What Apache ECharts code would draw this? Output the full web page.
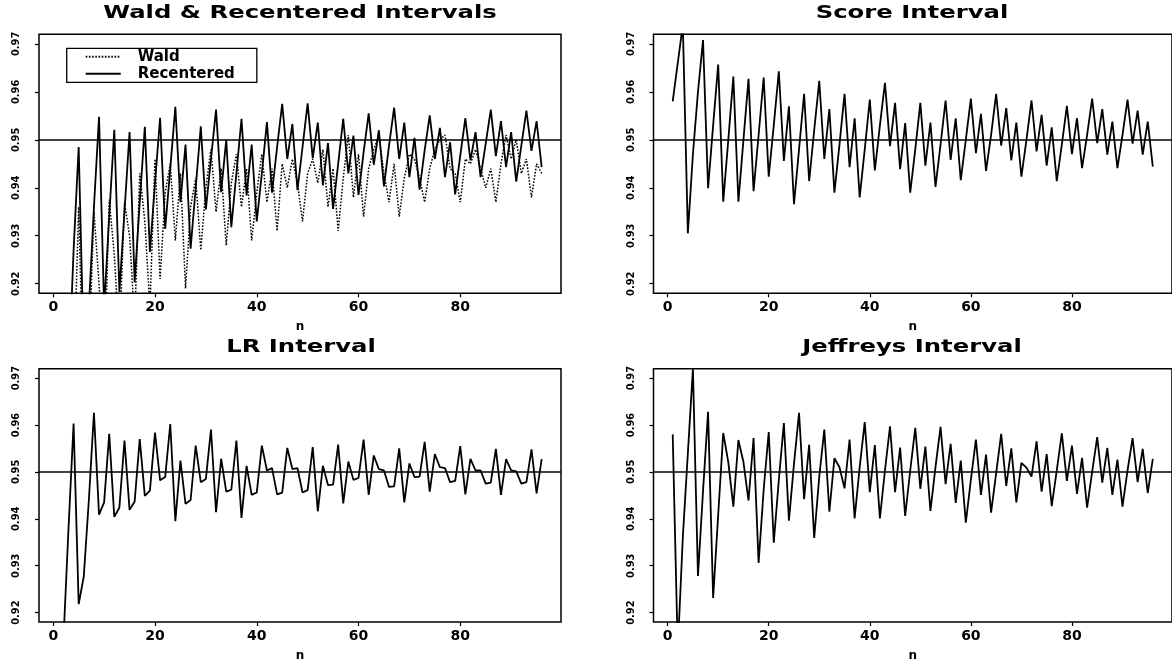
<!DOCTYPE html>
<html>
<head>
<meta charset="utf-8">
<title>Coverage of binomial intervals</title>
<script src="https://cdn.jsdelivr.net/npm/echarts@6/dist/echarts.min.js"></script>
<style>
html, body { margin: 0; padding: 0; background: #fff; }
#chart { width: 1172px; height: 663px; }
</style>
</head>
<body>
<div id="chart"></div>
<script>
// sample sizes
const nValues = [1,2,3,4,5,6,7,8,9,10,11,12,13,14,15,16,17,18,19,20,
  21,22,23,24,25,26,27,28,29,30,31,32,33,34,35,36,37,38,39,40,
  41,42,43,44,45,46,47,48,49,50,51,52,53,54,55,56,57,58,59,60,
  61,62,63,64,65,66,67,68,69,70,71,72,73,74,75,76,77,78,79,80,
  81,82,83,84,85,86,87,88,89,90,91,92,93,94,95,96];

// coverage probabilities
const wald = [0.78,0.83,0.87,0.90,0.936,0.895,0.905,0.935,0.920,0.900,
  0.9375,0.926,0.908,0.937,0.930,0.912,0.943,0.933,0.915,0.946,
  0.921,0.939,0.945,0.929,0.943,0.919,0.936,0.942,0.927,0.940,
  0.948,0.935,0.944,0.928,0.941,0.947,0.936,0.944,0.929,0.939,
  0.947,0.937,0.944,0.931,0.945,0.940,0.946,0.941,0.933,0.943,
  0.946,0.941,0.948,0.936,0.944,0.931,0.942,0.951,0.938,0.947,
  0.934,0.944,0.948,0.951,0.943,0.937,0.945,0.934,0.942,0.947,
  0.946,0.942,0.937,0.944,0.948,0.950,0.951,0.944,0.943,0.937,
  0.946,0.945,0.948,0.944,0.940,0.944,0.937,0.945,0.951,0.946,
  0.950,0.943,0.946,0.938,0.945,0.943];

const recentered = [0.800,0.850,0.900,0.927,0.9485,0.905,0.915,0.936,0.9548,0.915,
  0.934,0.9521,0.9183,0.935,0.9516,0.9203,0.937,0.9527,0.9266,0.941,
  0.9546,0.9314,0.944,0.9569,0.937,0.949,0.9273,0.940,0.9528,0.9355,
  0.946,0.9563,0.9391,0.950,0.9318,0.943,0.9544,0.9384,0.949,0.933,
  0.943,0.9537,0.939,0.9485,0.9575,0.946,0.9533,0.9395,0.9485,0.9576,
  0.9462,0.9536,0.9405,0.9493,0.9356,0.945,0.9544,0.943,0.9509,0.9385,
  0.9474,0.9555,0.9448,0.952,0.9403,0.9488,0.9567,0.946,0.9536,0.9422,
  0.9504,0.9396,0.9478,0.9551,0.946,0.9525,0.9422,0.9495,0.9386,0.9467,
  0.9545,0.9457,0.9516,0.9422,0.9492,0.9563,0.9466,0.9539,0.9443,0.9516,
  0.9413,0.9488,0.9561,0.9477,0.9539,0.9443];

const score = [0.958,0.966,0.974,0.9305,0.947,0.960,0.9708,0.9399,0.953,0.9657,
  0.9371,0.950,0.9632,0.9371,0.950,0.9627,0.9393,0.951,0.963,0.9423,
  0.953,0.9643,0.9456,0.957,0.9366,0.948,0.9596,0.9414,0.952,0.9623,
  0.946,0.9564,0.939,0.949,0.9596,0.9443,0.9545,0.938,0.948,0.9584,
  0.9436,0.953,0.9619,0.9487,0.9577,0.9439,0.9535,0.939,0.948,0.9577,
  0.9446,0.9536,0.9402,0.949,0.9582,0.9458,0.9545,0.9416,0.950,0.9586,
  0.9472,0.9554,0.9435,0.951,0.9596,0.9488,0.9566,0.9457,0.9536,0.9423,
  0.950,0.9582,0.9476,0.9552,0.9446,0.9526,0.9414,0.949,0.9571,0.947,
  0.9545,0.9441,0.951,0.9586,0.9493,0.9564,0.9469,0.9538,0.9441,0.951,
  0.9584,0.9492,0.9561,0.9469,0.9538,0.9444];

const lr = [0.880,0.914,0.938,0.9603,0.9218,0.9277,0.944,0.9626,0.9409,0.9435,
  0.9581,0.9404,0.9424,0.9567,0.9419,0.9437,0.957,0.9449,0.946,0.9584,
  0.9482,0.9489,0.9602,0.9395,0.9524,0.9432,0.944,0.9556,0.9478,0.9485,
  0.959,0.9414,0.9528,0.9458,0.9462,0.9567,0.9402,0.9513,0.9451,0.9456,
  0.9556,0.9503,0.9508,0.9452,0.9456,0.9551,0.9506,0.9508,0.9456,0.9461,
  0.9553,0.9416,0.9513,0.9472,0.9473,0.9558,0.9433,0.9522,0.9483,0.9487,
  0.9569,0.9451,0.9535,0.9506,0.9503,0.9468,0.9469,0.955,0.9435,0.9518,
  0.9489,0.949,0.9564,0.9458,0.9538,0.951,0.9508,0.9478,0.9481,0.9555,
  0.9452,0.9528,0.9503,0.9503,0.9475,0.9477,0.9549,0.9451,0.9527,0.9503,
  0.9501,0.9475,0.9478,0.9548,0.9454,0.9527];

const jeffreys = [0.958,0.912,0.936,0.954,0.9719,0.9278,0.9459,0.9628,0.9231,0.9408,
  0.9583,0.9521,0.9426,0.9568,0.9521,0.9439,0.9572,0.9306,0.9462,0.9585,
  0.9349,0.9483,0.9604,0.9396,0.9517,0.9626,0.9442,0.9558,0.9359,0.949,
  0.959,0.9415,0.9529,0.951,0.9465,0.9569,0.9401,0.951,0.9606,0.9457,
  0.9557,0.9401,0.9503,0.9597,0.9457,0.9552,0.9406,0.9503,0.9594,0.9464,
  0.9554,0.9417,0.951,0.9596,0.9474,0.956,0.9434,0.9524,0.9392,0.9483,
  0.9569,0.9451,0.9537,0.9413,0.9497,0.9581,0.947,0.955,0.9435,0.9519,
  0.9509,0.949,0.9565,0.9458,0.9538,0.9427,0.9503,0.9582,0.9481,0.9556,
  0.9453,0.953,0.9424,0.950,0.9574,0.9477,0.9551,0.9451,0.9526,0.9426,
  0.9503,0.9572,0.9478,0.9549,0.9455,0.9528];

const xTicks = [0, 20, 40, 60, 80];
const yTicks = [0.92, 0.93, 0.94, 0.95, 0.96, 0.97];
const nominal = 0.95;
const panelTitles = ['Wald & Recentered Intervals', 'Score Interval', 'LR Interval', 'Jeffreys Interval'];

const pairs = vals => nValues.map((n, i) => [n, vals[i]]);

const boxes = [
  { left: 39, top: 34.3, width: 522, height: 259 },
  { left: 653.5, top: 34.3, width: 519, height: 259 },
  { left: 39, top: 368.7, width: 522, height: 258.8 },
  { left: 653.5, top: 368.7, width: 519, height: 258.8 }
];
const titlePos = [[300, 13.5], [912, 13.5], [301, 348], [912, 348]];

const tickStyle = { color: '#000', width: 1.2 };
const refLine = {
  silent: true,
  symbol: ['none', 'none'],
  label: { show: false },
  lineStyle: { type: 'solid', color: '#000', width: 1.5 },
  data: [{ yAxis: nominal }]
};

function lineSeries(name, vals, idx, dash, withRef) {
  const s = {
    name: name,
    type: 'line',
    xAxisIndex: idx,
    yAxisIndex: idx,
    data: pairs(vals),
    symbol: 'none',
    clip: true,
    lineStyle: { color: '#000', width: dash ? 1.5 : 1.8, type: dash ? [1.6, 1.6] : 'solid' },
    itemStyle: { color: '#000' }
  };
  if (withRef) s.markLine = refLine;
  return s;
}

const option = {
  animation: false,
  backgroundColor: '#fff',
  grid: boxes.map(b => Object.assign({ show: true, borderColor: '#000', borderWidth: 1.5, containLabel: false }, b)),
  xAxis: boxes.map((b, i) => ({
    type: 'value', gridIndex: i, min: -2.8, max: 99.8,
    name: 'n', nameLocation: 'middle', nameGap: 28,
    nameTextStyle: { fontFamily: 'DejaVu Sans', fontWeight: 'bold', fontSize: 12, color: '#000' },
    axisLine: { show: false, onZero: false },
    axisTick: { show: true, customValues: xTicks, length: 4, lineStyle: tickStyle },
    axisLabel: { customValues: xTicks, margin: 7, fontFamily: 'DejaVu Sans', fontWeight: 'bold', fontSize: 14, color: '#000' },
    splitLine: { show: false }
  })),
  yAxis: boxes.map((b, i) => ({
    type: 'value', gridIndex: i, min: 0.918, max: 0.972,
    axisLine: { show: false, onZero: false },
    axisTick: { show: true, customValues: yTicks, length: 4, lineStyle: tickStyle },
    axisLabel: {
      customValues: yTicks, rotate: 90, margin: 17,
      formatter: v => v.toFixed(2),
      fontFamily: '"DejaVu Sans Condensed", "Liberation Sans Narrow", "DejaVu Sans"',
      fontWeight: 'bold', fontSize: 11, color: '#000'
    },
    splitLine: { show: false }
  })),
  legend: {
    data: ['Wald', 'Recentered'],
    orient: 'vertical',
    left: 66.7, top: 48.3,
    padding: [1, 22, 1, 18],
    itemWidth: 35, itemHeight: 12, itemGap: 2,
    borderColor: '#000', borderWidth: 1.3,
    backgroundColor: '#fff',
    itemStyle: { opacity: 0 },
    textStyle: { fontFamily: 'DejaVu Sans', fontWeight: 'bold', fontSize: 15, color: '#000', padding: [0, 0, 0, 12] }
  },
  graphic: panelTitles.map((t, i) => ({
    type: 'text', x: titlePos[i][0], y: titlePos[i][1], scaleX: 1.43, silent: true,
    style: {
      text: t, fill: '#000', font: 'bold 17px "DejaVu Sans"',
      align: 'center', verticalAlign: 'middle', textAlign: 'center', textVerticalAlign: 'middle'
    }
  })),
  series: [
    lineSeries('Wald', wald, 0, true, false),
    lineSeries('Recentered', recentered, 0, false, true),
    lineSeries('Score', score, 1, false, true),
    lineSeries('LR', lr, 2, false, true),
    lineSeries('Jeffreys', jeffreys, 3, false, true)
  ]
};

const chart = echarts.init(document.getElementById('chart'), null, { renderer: 'canvas' });
chart.setOption(option);
window.addEventListener('resize', () => chart.resize());
</script>
</body>
</html>
